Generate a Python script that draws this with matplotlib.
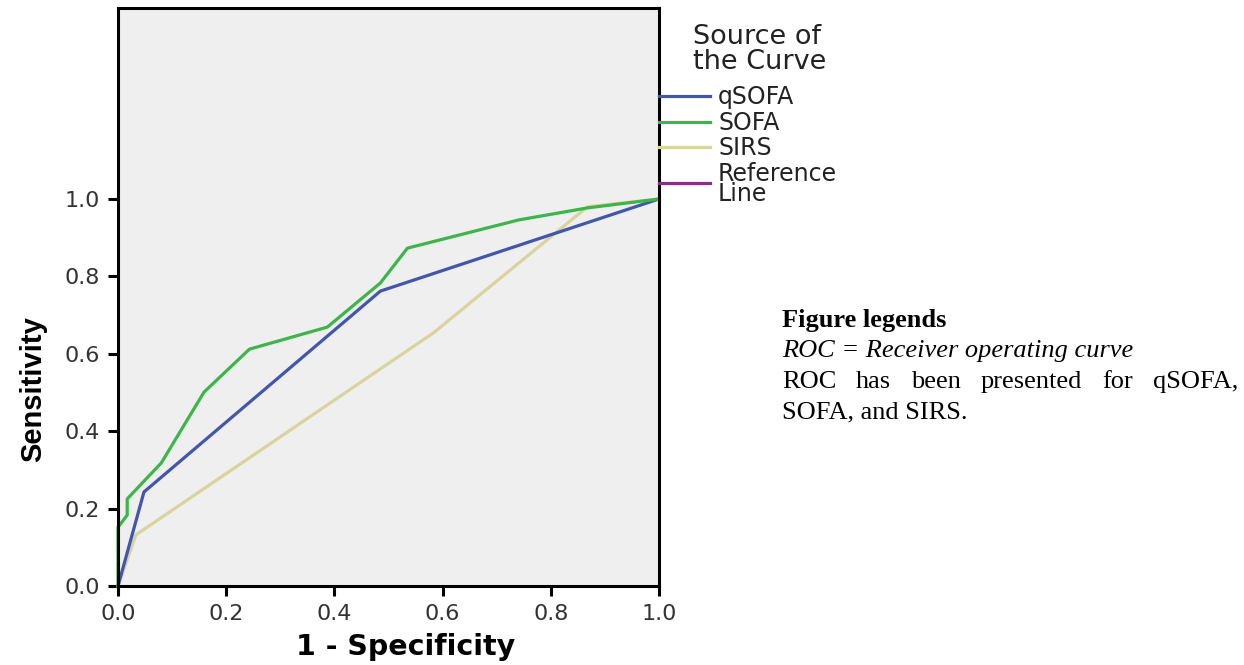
import matplotlib
matplotlib.use("Agg")
import matplotlib.pyplot as plt
from matplotlib.lines import Line2D

W, H = 1244, 665

# ROC points: (1 - specificity, sensitivity)
qsofa_fpr = [0.0, 0.048, 0.485, 1.0]
qsofa_tpr = [0.0, 0.243, 0.762, 1.0]
sofa_fpr = [0.0, 0.0, 0.017, 0.017, 0.080, 0.159, 0.243, 0.387, 0.485, 0.535, 0.741, 0.868, 1.0]
sofa_tpr = [0.0, 0.152, 0.183, 0.225, 0.318, 0.501, 0.612, 0.669, 0.783, 0.873, 0.946, 0.977, 1.0]
sirs_fpr = [0.0, 0.033, 0.583, 0.868, 1.0]
sirs_tpr = [0.0, 0.132, 0.654, 0.980, 1.0]

curve_names = ["qSOFA", "SOFA", "SIRS", "Reference\nLine"]
curve_colors = ["#4356ad", "#3db54a", "#d8d49e", "#8b2c8b"]
ticks = [0.0, 0.2, 0.4, 0.6, 0.8, 1.0]
tick_labels = ["0.0", "0.2", "0.4", "0.6", "0.8", "1.0"]

legend_title = ["Source of", "the Curve"]
note_title = "Figure legends"
note_italic = "ROC = Receiver operating curve"
note_line1 = "ROC has been presented for qSOFA,"
note_line2 = "SOFA, and SIRS."


def fx(x):  # pixel -> figure fraction
    return x / W


def fy(y):
    return 1 - y / H


fig = plt.figure(figsize=(W / 100, H / 100), dpi=100)
ax = fig.add_axes([fx(118), fy(586), (659 - 118) / W, (586 - 8) / H])
ax.set_facecolor("#efefef")

ax.plot(qsofa_fpr, qsofa_tpr, color=curve_colors[0], lw=2.3, clip_on=False, zorder=3)
ax.plot(sofa_fpr, sofa_tpr, color=curve_colors[1], lw=2.3, clip_on=False, zorder=4)
ax.plot(sirs_fpr, sirs_tpr, color=curve_colors[2], lw=2.3, clip_on=False, zorder=2)

ax.set_xlim(0, 1)
ax.set_ylim(0, 1.4935)
ax.set_xticks(ticks)
ax.set_xticklabels(tick_labels)
ax.set_yticks(ticks)
ax.set_yticklabels(tick_labels)
for s in ax.spines.values():
    s.set_linewidth(2.2)
    s.set_color("black")
    s.set_zorder(5)
ax.tick_params(axis="both", length=7, width=2.2, labelsize=16, colors="black",
               labelcolor="#333333")
ax.tick_params(axis="x", pad=6)
ax.tick_params(axis="y", pad=6)
for lab in ax.get_xticklabels() + ax.get_yticklabels():
    lab.set_family("DejaVu Sans")

ax.set_xlabel("1 - Specificity", fontsize=20.5, fontweight="bold", family="DejaVu Sans")
ax.xaxis.set_label_coords(0.532, -0.082)
ax.set_ylabel("Sensitivity", fontsize=21, fontweight="bold",
              family=["Liberation Sans Narrow", "Liberation Sans"])
ax.yaxis.set_label_coords(-0.13, 0.341)

# legend, drawn the way SPSS lays it out (handles start at the right spine)
for t, yb in zip(legend_title, [44, 69]):
    fig.text(fx(693), fy(yb), t, fontsize=19.5, family="DejaVu Sans", va="baseline",
             color="#222222")
for name, col, yc in zip(curve_names, curve_colors, [96, 122, 147, 183]):
    fig.add_artist(Line2D([fx(659), fx(710)], [fy(yc), fy(yc)], color=col, lw=2.3))
    fig.text(fx(718), fy(yc + 1), name, fontsize=17, family="DejaVu Sans",
             va="center", linespacing=0.8, color="#222222")

# note text to the right
serif = "Liberation Serif"
fig.text(fx(782), fy(327), note_title, fontsize=19, family=serif, fontweight="bold",
         va="baseline")
fig.text(fx(782), fy(357), note_italic, fontsize=19, family=serif, style="italic",
         va="baseline")
fig.text(fx(782), fy(418), note_line2, fontsize=19, family=serif, va="baseline")

# justified line
words = note_line1.split()
renderer = fig.canvas.get_renderer()
arts = [fig.text(0, fy(388), w, fontsize=19, family=serif, va="baseline") for w in words]
widths = [a.get_window_extent(renderer).width for a in arts]
x0, x1 = 782, 1238
gap = (x1 - x0 - sum(widths)) / (len(words) - 1)
x = x0
for a, w in zip(arts, widths):
    a.set_x(fx(x))
    x += w + gap

fig.savefig("out.png", dpi=100)
